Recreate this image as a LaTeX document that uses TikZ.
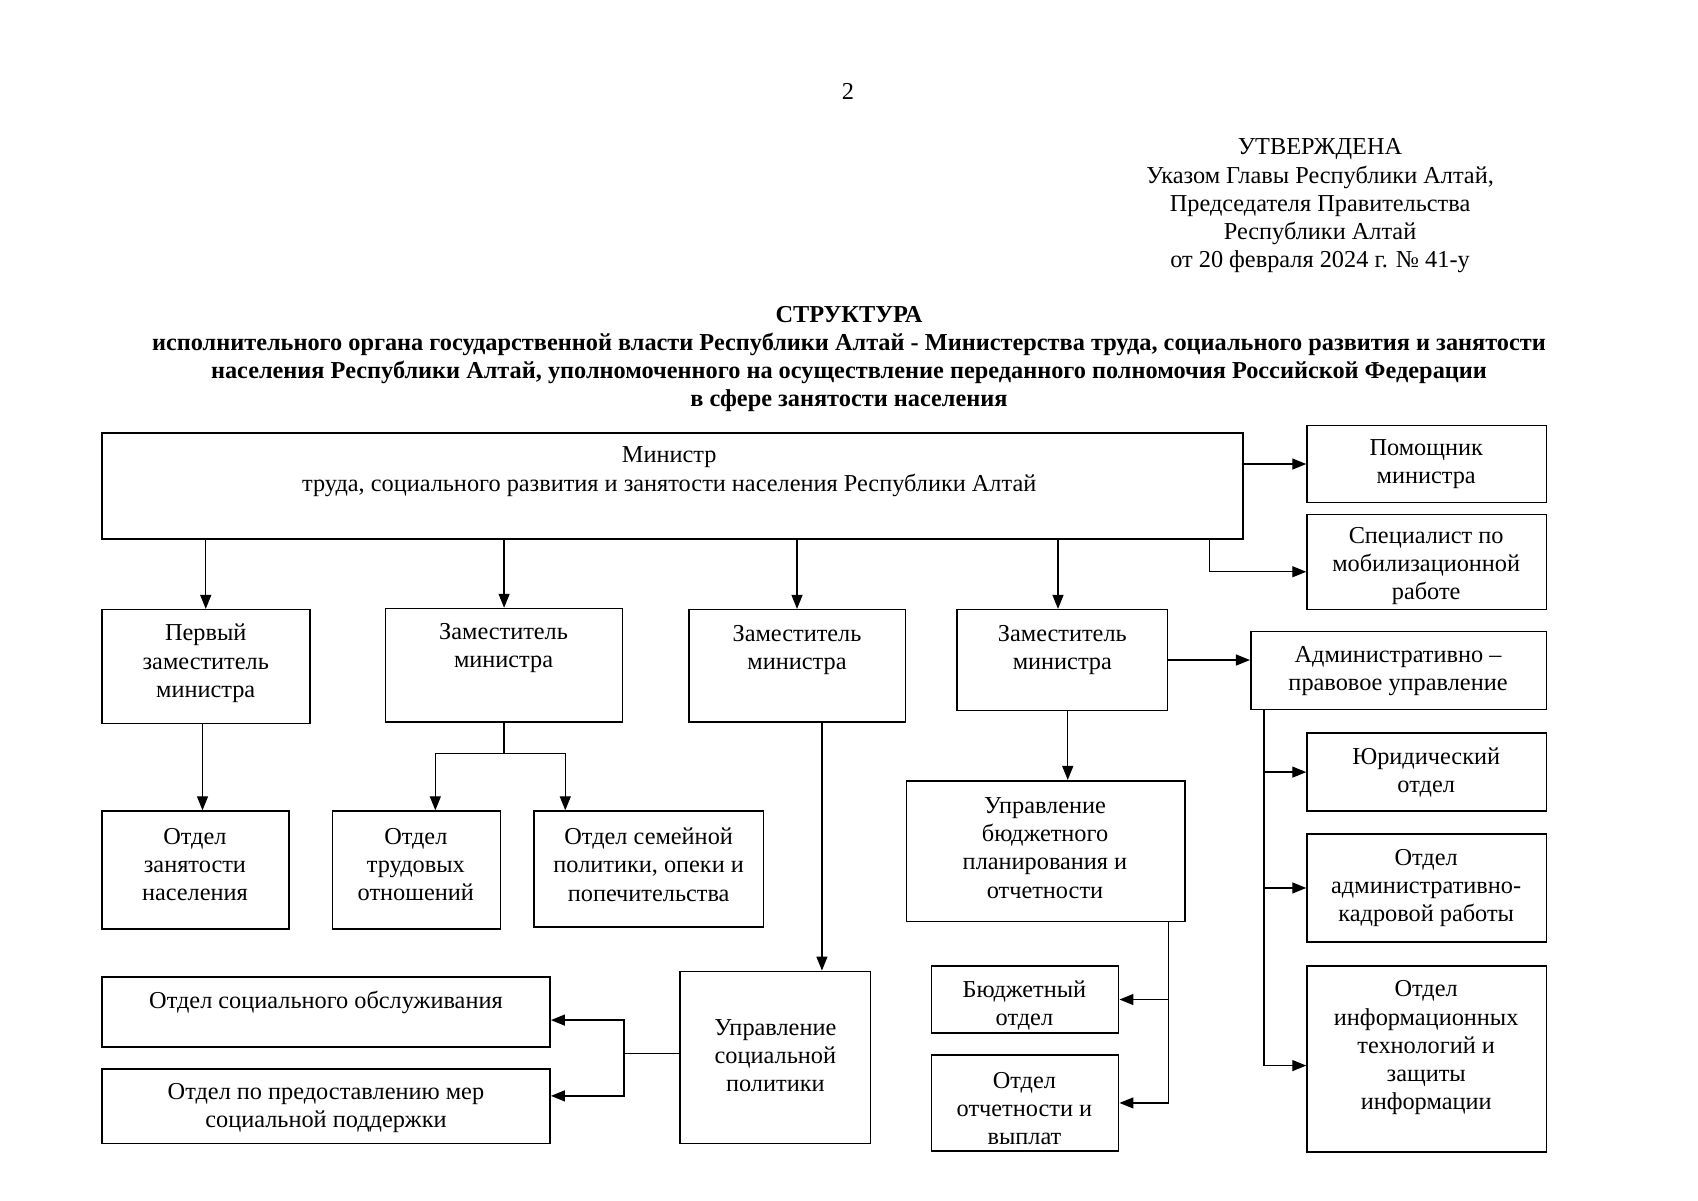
\documentclass[tikz,border=0pt]{standalone}
\usepackage{fontspec}
\setmainfont{Liberation Serif}
\usetikzlibrary{arrows.meta,fit,calc}
\begin{document}
\begin{tikzpicture}[x=0.5411pt,y=-0.5411pt,
  font=\fontsize{12.15}{14.07}\selectfont,
  box/.style={draw, line width=0.8pt, inner sep=0pt},
  txt/.style={align=center, inner sep=0pt, yshift=-1.4pt},
  ln/.style={line width=0.65pt},
  arr/.style={line width=0.65pt, -{Triangle[length=7pt,width=5.5pt]}}]
\useasboundingbox (0,0) rectangle (1568,1108.2);

% header
\node[txt] (pg) at (783,82) {2};
\node[txt] (utv) at (1219,187.5) {УТВЕРЖДЕНА\\Указом Главы Республики Алтай,\\Председателя Правительства\\Республики Алтай\\от 20 февраля 2024 г. № 41-у};
\node[txt, font=\fontsize{12.15}{14.07}\selectfont\bfseries] (ttl) at (784,329) {СТРУКТУРА\\исполнительного органа государственной власти Республики Алтай - Министерства труда, социального развития и занятости\\населения Республики Алтай, уполномоченного на осуществление переданного полномочия Российской Федерации\\в сфере занятости населения};

% boxes
\node[box, fit={(94,400)(1148,498)}] (min) {};
\node[txt] (min-t) at (618,433) {Министр\\труда, социального развития и занятости населения Республики Алтай};

\node[box, fit={(1207,393)(1428,464)}] (pom) {};
\node[txt] (pom-t) at (1317,426) {Помощник\\министра};

\node[box, fit={(1207,475)(1428,563)}] (spec) {};
\node[txt] (spec-t) at (1317,520) {Специалист по\\мобилизационной\\работе};

\node[box, fit={(94,563)(286,668)}] (p1) {};
\node[txt] (p1-t) at (190,610) {Первый\\заместитель\\министра};

\node[box, fit={(356,562)(575,667)}] (z2) {};
\node[txt] (z2-t) at (465,596) {Заместитель\\министра};

\node[box, fit={(636,563)(836,667)}] (z3) {};
\node[txt] (z3-t) at (736,598) {Заместитель\\министра};

\node[box, fit={(884,563)(1078,656)}] (z4) {};
\node[txt] (z4-t) at (981,598) {Заместитель\\министра};

\node[box, fit={(1155,583)(1428,655)}] (adm) {};
\node[txt] (adm-t) at (1291,617) {Административно –\\правовое управление};

\node[box, fit={(94,749)(267,858)}] (oz) {};
\node[txt] (oz-t) at (180,796) {Отдел\\занятости\\населения};

\node[box, fit={(307,749)(462,858)}] (ot) {};
\node[txt] (ot-t) at (384,796) {Отдел\\трудовых\\отношений};

\node[box, fit={(493,749)(705,856)}] (os) {};
\node[txt] (os-t) at (599,796) {Отдел семейной\\политики, опеки и\\попечительства};

\node[box, fit={(837,721)(1094,851)}] (ub) {};
\node[txt] (ub-t) at (965,780.5) {Управление\\бюджетного\\планирования и\\отчетности};

\node[box, fit={(1207,677)(1428,749)}] (yur) {};
\node[txt] (yur-t) at (1317,711) {Юридический\\отдел};

\node[box, fit={(1207,770)(1428,870)}] (ak) {};
\node[txt] (ak-t) at (1317,817.5) {Отдел\\административно-\\кадровой работы};

\node[box, fit={(1207,892)(1428,1064)}] (info) {};
\node[txt] (info-t) at (1317,965) {Отдел\\информационных\\технологий и\\защиты\\информации};

\node[box, fit={(94,902)(508,967)}] (oso) {};
\node[txt] (oso-t) at (301,923) {Отдел социального обслуживания};

\node[box, fit={(94,987)(508,1056)}] (opm) {};
\node[txt] (opm-t) at (301,1021) {Отдел по предоставлению мер\\социальной поддержки};

\node[box, fit={(628,897)(804,1056)}] (usp) {};
\node[txt] (usp-t) at (716,972) {Управление\\социальной\\политики};

\node[box, fit={(860,892)(1033,954)}] (bud) {};
\node[txt] (bud-t) at (946,926) {Бюджетный\\отдел};

\node[box, fit={(860,974)(1033,1063)}] (otv) {};
\node[txt] (otv-t) at (946,1021) {Отдел\\отчетности и\\выплат};

% connectors
\draw[arr] (min.east |- pom.west) -- (pom.west);
\draw[arr] ($(min.south east)+(-32,0)$) |- ($(spec.west)+(0,9)$);
\draw[arr] (min.south -| p1.north) -- (p1.north);
\draw[arr] (min.south -| z2.north) -- (z2.north);
\draw[arr] (min.south -| z3.north) -- (z3.north);
\draw[arr] ($(min.south -| z4.north)+(-4,0)$) -- ($(z4.north)+(-4,0)$);

\draw[arr] ($(p1.south)+(-3,0)$) coordinate (a1) -- (a1 |- oz.north);

\draw[ln] (z2.south) -- ++(0,28) coordinate (j2);
\draw[arr] (j2) -| ($(ot.north)+(17.5,0)$);
\draw[arr] (j2) -| ($(os.north)+(-77,0)$);

\draw[arr] ($(z3.south)+(23,0)$) coordinate (a3) -- (a3 |- usp.north);

\draw[arr] (z4.east) -- (z4.east -| adm.west);
\draw[arr] ($(z4.south)+(5,0)$) coordinate (a4) -- (a4 |- ub.north);

\coordinate (t1) at ($(adm.south west)+(13,0)$);
\draw[arr] (t1) |- (yur.west);
\draw[arr] (t1) |- (ak.west);
\draw[arr] (t1) |- ($(info.west)+(0,6)$);

\coordinate (t2) at ($(ub.south east)+(-16,0)$);
\draw[arr] (t2) |- (bud.east);
\draw[arr] (t2) |- (otv.east);

\draw[ln] ($(usp.west)+(0,-3.5)$) -- ++(-51,0) coordinate (j5);
\draw[arr] (j5) |- ($(oso.east)+(0,7.5)$);
\draw[arr] (j5) |- ($(opm.east)+(0,-9.5)$);
\end{tikzpicture}
\end{document}
